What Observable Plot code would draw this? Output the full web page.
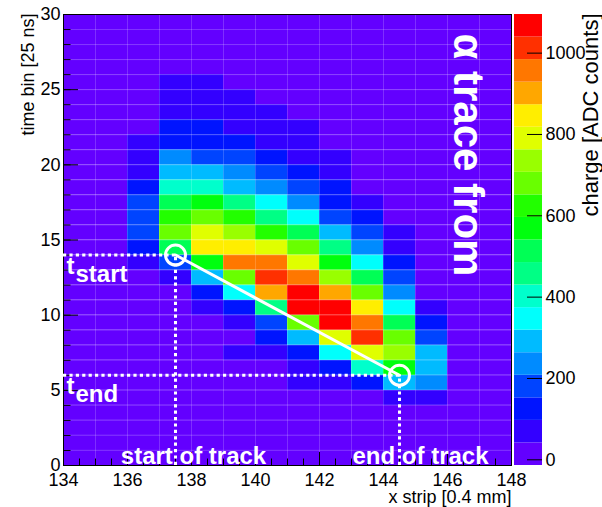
<!DOCTYPE html>
<html><head><meta charset="utf-8">
<script src="https://cdn.jsdelivr.net/npm/d3@7"></script>
<script src="https://cdn.jsdelivr.net/npm/@observablehq/plot@0.6"></script>
<style>
html,body{margin:0;padding:0;background:#fff;overflow:hidden;}
#wrap{position:relative;width:602px;height:507px;overflow:hidden;}
#wrap svg{position:absolute;left:0;top:0;pointer-events:none;}
</style></head><body><div id="wrap"></div>
<script>
// ---------- data ----------
const stripsActive = [136,137,138,139,140,141,142,143,144,145,146];
const timeBinsActive = [25,24,23,22,21,20,19,18,17,16,15,14,13,12,11,10,9,8,7,6,5,4];
const charge = [
  [0,70,70,0,0,0,0,0,0,0,0],
  [0,70,70,70,0,0,0,0,0,0,0],
  [0,70,70,70,70,0,0,0,0,0,0],
  [0,125,125,70,70,70,0,0,0,0,0],
  [70,125,125,125,70,70,0,0,0,0,0],
  [70,235,180,180,125,70,70,0,0,0,0],
  [70,290,290,235,180,125,70,0,0,0,0],
  [125,400,400,290,235,180,125,0,0,0,0],
  [180,510,565,455,345,235,125,70,0,0,0],
  [180,620,680,620,455,345,180,125,0,0,0],
  [180,680,790,735,620,510,290,180,70,0,0],
  [125,510,845,845,790,680,455,235,70,0,0],
  [70,180,565,955,955,790,565,345,125,0,0],
  [0,70,290,680,1010,955,735,510,180,0,0],
  [0,0,125,345,900,1065,900,680,235,0,0],
  [0,0,70,125,455,1065,1065,845,345,70,0],
  [0,0,0,70,180,680,1065,955,510,125,0],
  [0,0,0,0,125,290,790,1010,680,180,0],
  [0,0,0,70,70,125,345,790,735,290,0],
  [0,0,0,0,0,70,125,400,565,290,0],
  [0,0,0,0,0,70,70,125,290,235,0],
  [0,0,0,0,0,0,0,0,70,70,0]
];
const allStrips = [134,135,136,137,138,139,140,141,142,143,144,145,146,147];
const allBins = d3.range(0, 30);
const xDomain = [134, 148];
const yDomain = [0, 30];
const xTickLabels = [134,136,138,140,142,144,146,148];
const yTickLabels = [0,5,10,15,20,25,30];
const xMinorTicks = d3.range(134, 148.001, 0.5);
const yMinorTicks = d3.range(0, 31, 1);
const zRange = [-14, 1095];
const zTickLabels = [0,200,400,600,800,1000];
const nLevels = 20;
const palette = ["#6300ff","#3300ff","#0014ff","#0044ff","#008bff","#00bbff","#00fffc","#00ffcc","#00ff85","#00ff55",
                 "#00ff0e","#22ff00","#69ff00","#99ff00","#e0ff00","#ffee00","#ffa700","#ff7700","#ff3000","#ff0000"];
const trackStrips = [137.5, 144.5];
const trackBins = [14, 6];

// ---------- derived tables ----------
const cells = [];
for (const b of allBins) for (const s of allStrips) {
  const r = timeBinsActive.indexOf(b), c = stripsActive.indexOf(s);
  cells.push({strip: s, bin: b, charge: (r >= 0 && c >= 0) ? charge[r][c] : 0});
}
const track = trackStrips.map((s, i) => ({strip: s, bin: trackBins[i]}));
const zStep = (zRange[1] - zRange[0]) / nLevels;
const thresholds = d3.range(1, nLevels).map(i => zRange[0] + i * zStep);
const bands = d3.range(nLevels).map(i => ({lo: zRange[0] + i * zStep, hi: zRange[0] + (i + 1) * zStep, mid: zRange[0] + (i + 0.5) * zStep}));
const colorScale = {type: "threshold", domain: thresholds, range: palette};

const W = 602, H = 507, mL = 63, mT = 14, mR = 91, mB = 42;
const innerW = W - mL - mR, innerH = H - mT - mB;
const font = "'Liberation Sans', Arial, Helvetica, sans-serif";
const white = {fill: "white", fontWeight: "bold"};
const dotted = {stroke: "white", strokeWidth: 3, strokeDasharray: "3.2,3.2"};

const main = Plot.plot({
  width: W, height: H, marginLeft: mL, marginRight: mR, marginTop: mT, marginBottom: mB,
  style: {fontFamily: font, fontSize: "18px", background: "transparent", color: "black"},
  x: {domain: xDomain, ticks: xTickLabels, tickSize: 0, tickPadding: 8, tickFormat: d => String(d), label: null},
  y: {domain: yDomain, ticks: yTickLabels, tickSize: 0, tickPadding: 3, tickFormat: d => String(d), label: null},
  color: colorScale,
  marks: [
    Plot.rect(cells, {x1: "strip", x2: d => d.strip + 1, y1: "bin", y2: d => d.bin + 1, fill: "charge"}),
    Plot.ruleX(allStrips.slice(1), {x: d => d, stroke: "white", strokeOpacity: 0.18}),
    Plot.ruleY(allBins.slice(1), {y: d => d, stroke: "white", strokeOpacity: 0.18}),
    Plot.tickX(xMinorTicks, {x: d => d, insetTop: innerH - 6.5, stroke: "black"}),
    Plot.tickX(xTickLabels, {x: d => d, insetTop: innerH - 13, stroke: "black"}),
    Plot.tickY(yMinorTicks, {y: d => d, insetRight: innerW - 7.5, stroke: "black"}),
    Plot.tickY(yTickLabels, {y: d => d, insetRight: innerW - 15, stroke: "black"}),
    Plot.frame({stroke: "black"}),
    Plot.ruleY(track, {y: "bin", x1: () => xDomain[0], x2: "strip", ...dotted}),
    Plot.ruleX(track, {x: "strip", y1: () => yDomain[0], y2: "bin", ...dotted}),
    Plot.line(track, {x: "strip", y: "bin", stroke: "white", strokeWidth: 3}),
    Plot.dot(track, {x: "strip", y: "bin", r: 10, stroke: "white", strokeWidth: 3, fill: "none"}),
    Plot.text([track[0]], {x: () => xDomain[0], y: "bin", text: () => "t", dx: 3, dy: 19, textAnchor: "start", lineAnchor: "bottom", fontSize: 24, ...white}),
    Plot.text([track[0]], {x: () => xDomain[0], y: "bin", text: () => "start", dx: 12, dy: 27, textAnchor: "start", lineAnchor: "bottom", fontSize: 24, ...white}),
    Plot.text([track[1]], {x: () => xDomain[0], y: "bin", text: () => "t", dx: 3, dy: 19, textAnchor: "start", lineAnchor: "bottom", fontSize: 24, ...white}),
    Plot.text([track[1]], {x: () => xDomain[0], y: "bin", text: () => "end", dx: 12, dy: 27, textAnchor: "start", lineAnchor: "bottom", fontSize: 24, ...white}),
    Plot.text([track[0]], {x: "strip", y: () => yDomain[0], text: () => "start of track", dx: 18, dy: -2, textAnchor: "middle", lineAnchor: "bottom", fontSize: 24, ...white}),
    Plot.text([track[1]], {x: "strip", y: () => yDomain[0], text: () => "end of track", dx: 21, dy: -2, textAnchor: "middle", lineAnchor: "bottom", fontSize: 24, ...white}),
    Plot.text(["α trace from"], {frameAnchor: "top-right", dx: -58, dy: 19, rotate: 90, textAnchor: "start", lineAnchor: "bottom", fontSize: 42, ...white}),
    Plot.text(["x strip [0.4 mm]"], {frameAnchor: "bottom-right", textAnchor: "end", lineAnchor: "bottom", dy: 37, fontSize: 18, fill: "black"}),
    Plot.text(["time bin [25 ns]"], {frameAnchor: "top-left", rotate: -90, textAnchor: "end", lineAnchor: "bottom", dx: -30, dy: -1, fontSize: 18, fill: "black"})
  ]
});

const bar = Plot.plot({
  width: W, height: H, marginLeft: 514, marginRight: 60, marginTop: mT, marginBottom: mB,
  style: {fontFamily: font, fontSize: "18px", background: "transparent", color: "black"},
  x: {domain: [0, 1], axis: null},
  y: {domain: zRange, axis: "right", ticks: zTickLabels, tickSize: 0, tickPadding: 3, tickFormat: d => String(d), label: null},
  color: colorScale,
  marks: [
    Plot.rect(bands, {x1: () => 0, x2: () => 1, y1: "lo", y2: "hi", fill: "mid"}),
    Plot.tickY(zTickLabels, {y: d => d, insetLeft: 13, stroke: "black"}),
    Plot.text(["charge [ADC counts]"], {frameAnchor: "top-right", rotate: -90, textAnchor: "end", lineAnchor: "bottom", dx: 55, dy: -1, fontSize: 22, fill: "black"})
  ]
});

const wrap = document.getElementById("wrap");
wrap.appendChild(main);
wrap.appendChild(bar);
</script></body></html>
